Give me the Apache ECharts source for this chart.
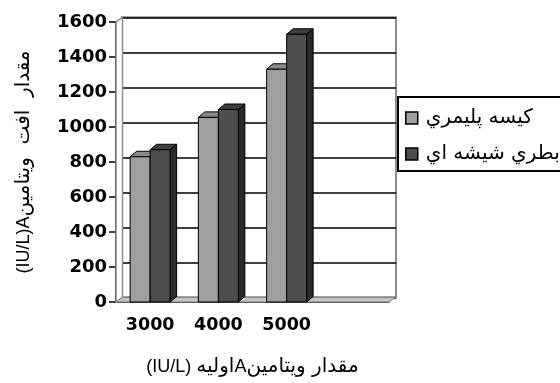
<!DOCTYPE html>
<html>
<head>
<meta charset="utf-8">
<script src="https://cdn.jsdelivr.net/npm/echarts@6/dist/echarts.min.js"></script>
<style>
  html, body { margin: 0; padding: 0; background: #ffffff; }
  #chart { width: 560px; height: 383px; }
</style>
</head>
<body>
<div id="chart"></div>
<script>
// categories (last one is an empty slot, as in the original)
const categories = ['3000', '4000', '5000', '']
// series values
const polymerBag = [830, 1055, 1330, null]
const glassBottle = [870, 1100, 1530, null]
const yTicks = { min: 0, max: 1600, interval: 200 }

const seriesNames = ['كيسه پليمري', 'بطري شيشه اي']
// rich text segments in visual (left to right) order
const xTitle = '{l|(IU/L) }{ar|اوليه}{l|A}{ar|مقدار ويتامين}'
const yTitle = '{l|(IU/L)A}{ar|مقدار  افت  ويتامين}'

const numFont = 'DejaVu Sans'
const titleRich = {
  l: { fontFamily: 'Liberation Sans', fontSize: 18, color: '#000' },
  ar: { fontFamily: 'DejaVu Sans', fontSize: 20, color: '#000' }
}

const faces = [
  { front: '#9f9f9f', top: '#8a8a8a', side: '#6e6e6e' },
  { front: '#4d4d4d', top: '#3e3e3e', side: '#2a2a2a' }
]
const DX = 6.5
const DY = 5.5

// draws a pseudo 3D column from the axis coordinates
function barRenderer (idx) {
  const f = faces[idx]
  return function (params, api) {
    const c = api.coord([api.value(0), api.value(1)])
    const base = api.coord([api.value(0), 0])
    const band = api.size([1, 0])[0]
    const w = band * 0.293
    const x0 = idx === 0 ? c[0] - w : c[0]
    const x1 = x0 + w
    const yt = c[1]
    const yb = base[1]
    const st = { stroke: '#000', lineWidth: 1 }
    return {
      type: 'group',
      children: [
        { type: 'polygon', shape: { points: [[x1, yt], [x1 + DX, yt - DY], [x1 + DX, yb - DY], [x1, yb]] }, style: Object.assign({ fill: f.side }, st) },
        { type: 'polygon', shape: { points: [[x0, yt], [x0 + DX, yt - DY], [x1 + DX, yt - DY], [x1, yt]] }, style: Object.assign({ fill: f.top }, st) },
        { type: 'rect', shape: { x: x0, y: yt, width: w, height: yb - yt }, style: Object.assign({ fill: f.front }, st) }
      ]
    }
  }
}

// floor and left side wall of the 3D box
function floorRenderer (params, api) {
  const cs = params.coordSys
  const l = cs.x
  const r = cs.x + cs.width
  const t = cs.y
  const b = cs.y + cs.height
  return {
    type: 'group',
    children: [
      { type: 'polygon', shape: { points: [[l, t], [l + DX, t - 4.7], [l + DX, b - 4.7], [l, b]] }, style: { fill: '#ffffff', stroke: '#8c8c8c', lineWidth: 1.5 } },
      { type: 'polygon', shape: { points: [[l, b], [l + DX, b - 4.7], [r + DX, b - 4.7], [r, b]] }, style: { fill: '#c4c4c4', stroke: '#808080', lineWidth: 1 } }
    ]
  }
}

const toData = arr => arr.map((v, i) => [i, v]).filter(d => d[1] !== null)

const chart = echarts.init(document.getElementById('chart'))
chart.setOption({
  backgroundColor: '#ffffff',
  animation: false,
  grid: [
    { left: 116, top: 22, right: 171, bottom: 81 },
    { left: 122, top: 17.3, right: 164, bottom: 85.7, show: true, backgroundColor: '#ffffff', borderColor: '#8c8c8c', borderWidth: 2 }
  ],
  legend: {
    data: seriesNames,
    orient: 'vertical',
    left: 398,
    top: 97,
    padding: [10, 14, 6, 7],
    itemGap: 14,
    itemWidth: 12,
    itemHeight: 12,
    icon: 'rect',
    borderColor: '#000',
    borderWidth: 2,
    itemStyle: { borderColor: '#000', borderWidth: 1.5 },
    textStyle: { fontFamily: 'DejaVu Sans', fontSize: 20, color: '#000', lineHeight: 22, padding: [0, 0, 0, 3] }
  },
  xAxis: [
    {
      type: 'category',
      gridIndex: 0,
      data: categories,
      axisLine: { lineStyle: { color: '#000', width: 1.5 } },
      axisTick: { length: 5, lineStyle: { color: '#000', width: 1.5 } },
      axisLabel: { color: '#000', fontFamily: numFont, fontWeight: 'bold', fontSize: 17.5, margin: 14 },
      name: xTitle,
      nameLocation: 'middle',
      nameGap: 55,
      nameTextStyle: { rich: titleRich }
    },
    { type: 'value', gridIndex: 1, show: false, min: 0, max: 1 }
  ],
  yAxis: [
    {
      type: 'value',
      gridIndex: 0,
      min: yTicks.min,
      max: yTicks.max,
      interval: yTicks.interval,
      axisLine: { show: true, lineStyle: { color: '#000', width: 2 } },
      axisTick: { show: true, length: 7, lineStyle: { color: '#000', width: 1.5 } },
      splitLine: { show: false },
      axisLabel: { color: '#000', fontFamily: numFont, fontWeight: 'bold', fontSize: 18, margin: 9, formatter: v => String(v) },
      name: yTitle,
      nameLocation: 'middle',
      nameGap: 82,
      nameTextStyle: { rich: titleRich }
    },
    {
      type: 'value',
      gridIndex: 1,
      min: yTicks.min,
      max: yTicks.max,
      interval: yTicks.interval,
      axisLine: { show: false },
      axisTick: { show: false },
      axisLabel: { show: false },
      splitLine: { lineStyle: { color: '#000', width: 1.5 } }
    }
  ],
  series: [
    {
      type: 'custom',
      name: 'floor',
      xAxisIndex: 0,
      yAxisIndex: 0,
      data: [[0, 0]],
      renderItem: floorRenderer,
      silent: true,
      z: 1
    },
    {
      type: 'custom',
      name: seriesNames[0],
      xAxisIndex: 0,
      yAxisIndex: 0,
      itemStyle: { color: faces[0].front },
      encode: { x: 0, y: 1 },
      data: toData(polymerBag),
      renderItem: barRenderer(0),
      z: 2
    },
    {
      type: 'custom',
      name: seriesNames[1],
      xAxisIndex: 0,
      yAxisIndex: 0,
      itemStyle: { color: faces[1].front },
      encode: { x: 0, y: 1 },
      data: toData(glassBottle),
      renderItem: barRenderer(1),
      z: 3
    }
  ]
})
</script>
</body>
</html>
